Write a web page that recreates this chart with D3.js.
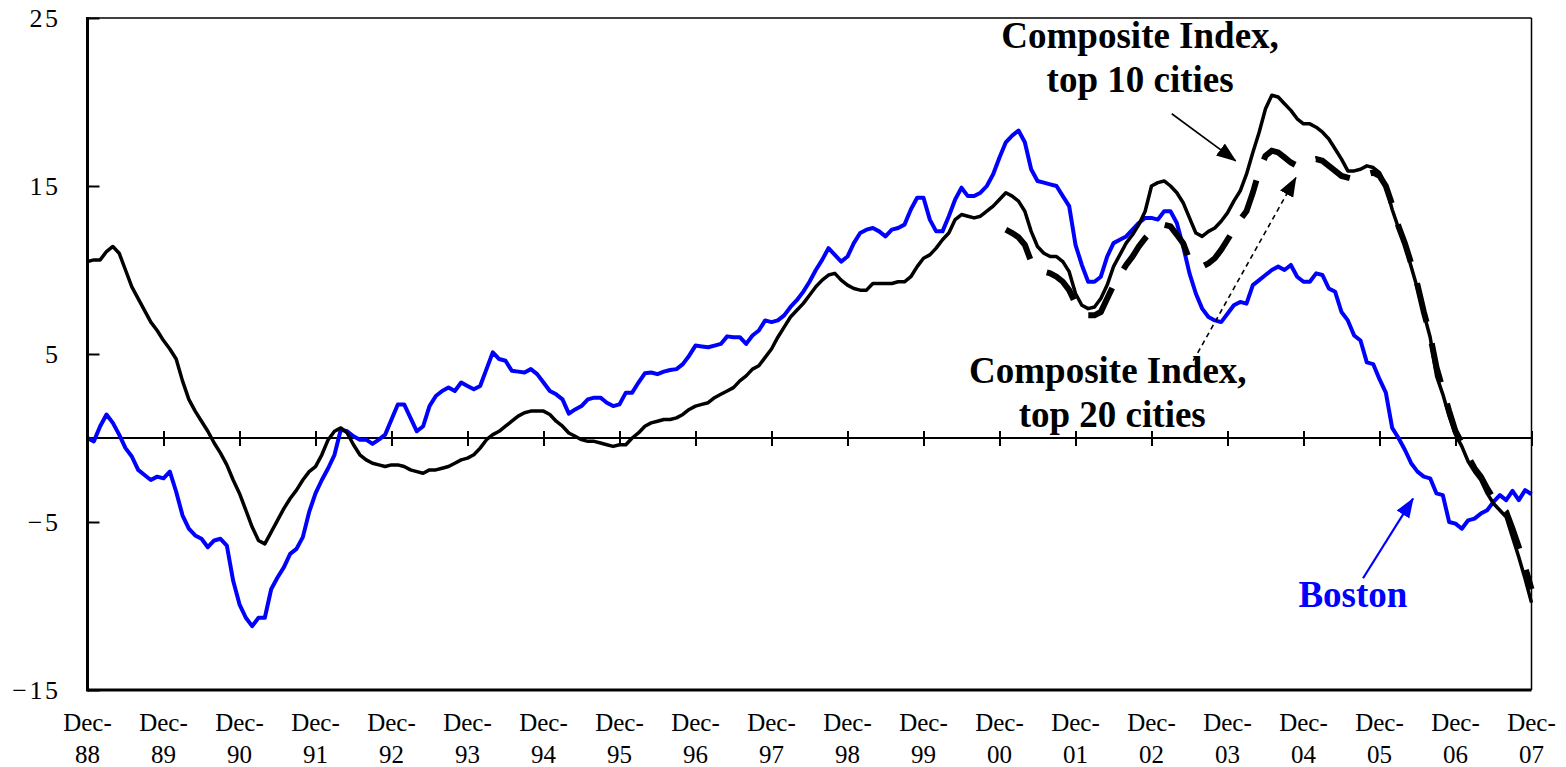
<!DOCTYPE html>
<html>
<head>
<meta charset="utf-8">
<script src="https://cdn.jsdelivr.net/npm/d3@7"></script>
<style>
  html, body { margin: 0; padding: 0; background: #fff; }
  svg { display: block; }
  text { font-family: "Liberation Serif", "Times New Roman", serif; }
</style>
</head>
<body>
<svg id="chart" width="1566" height="767"></svg>
<script>
// ---- Data: year-over-year % change, monthly, Dec-88 (index 0) .. Dec-07 (index 228)
const startYear = 1988;
const yTicks = [25, 15, 5, -5, -15];

const composite10 = [
  10.5, 10.6, 10.6, 11.1, 11.4, 11.0, 10.0, 9.0, 8.3, 7.6, 6.9, 6.4,
  5.8, 5.3, 4.7, 3.4, 2.3, 1.6, 1.0, 0.4, -0.3, -0.9, -1.6, -2.5,
  -3.3, -4.3, -5.3, -6.1, -6.3, -5.6, -4.9, -4.2, -3.6, -3.1, -2.5, -2.0,
  -1.7, -1.0, -0.1, 0.4, 0.6, 0.3, -0.4, -1.0, -1.3, -1.5, -1.6, -1.7,
  -1.6, -1.6, -1.7, -1.9, -2.0, -2.1, -1.9, -1.9, -1.8, -1.7, -1.5, -1.3,
  -1.2, -1.0, -0.6, -0.1, 0.2, 0.4, 0.7, 1.0, 1.3, 1.5, 1.6, 1.6,
  1.6, 1.4, 1.0, 0.7, 0.3, 0.1, -0.1, -0.2, -0.2, -0.3, -0.4, -0.5,
  -0.4, -0.4, 0.0, 0.3, 0.7, 0.9, 1.0, 1.1, 1.1, 1.2, 1.4, 1.7,
  1.9, 2.0, 2.1, 2.4, 2.6, 2.8, 3.0, 3.4, 3.7, 4.1, 4.3, 4.8,
  5.3, 6.0, 6.6, 7.2, 7.6, 8.0, 8.5, 9.0, 9.4, 9.7, 9.8, 9.4,
  9.1, 8.9, 8.8, 8.8, 9.2, 9.2, 9.2, 9.2, 9.3, 9.3, 9.6, 10.2,
  10.7, 10.9, 11.3, 11.8, 12.2, 13.0, 13.3, 13.2, 13.1, 13.2, 13.5, 13.8,
  14.2, 14.6, 14.4, 14.1, 13.5, 12.3, 11.4, 11.0, 10.8, 10.8, 10.5, 9.9,
  8.6, 7.9, 7.7, 7.8, 8.3, 9.1, 10.2, 10.9, 11.6, 12.1, 12.7, 13.5,
  15.0, 15.2, 15.3, 15.0, 14.6, 14.0, 13.1, 12.2, 12.0, 12.3, 12.5, 12.9,
  13.4, 14.1, 14.7, 15.7, 17.0, 18.2, 19.6, 20.4, 20.3, 19.9, 19.5, 19.0,
  18.7, 18.7, 18.5, 18.2, 17.8, 17.2, 16.6, 15.9, 15.9, 16.0, 16.2, 16.1,
  15.8, 15.0, 13.6, 12.5, 11.5, 10.2, 8.9, 7.4, 6.0, 3.7, 2.6, 1.3,
  0.2, -0.5, -1.4, -2.0, -2.5, -3.3, -3.9, -4.3, -4.7, -5.9, -7.1, -8.4, -9.8
];

const boston = [
  0.0, -0.2, 0.7, 1.4, 0.9, 0.2, -0.6, -1.1, -1.9, -2.2, -2.5, -2.3,
  -2.4, -2.0, -3.2, -4.6, -5.4, -5.8, -6.0, -6.5, -6.1, -6.0, -6.4, -8.5,
  -9.9, -10.7, -11.2, -10.7, -10.7, -9.0, -8.3, -7.7, -6.9, -6.6, -5.9, -4.4,
  -3.3, -2.5, -1.8, -1.0, 0.5, 0.4, 0.1, -0.1, -0.1, -0.35, -0.1, 0.2,
  1.1, 2.0, 2.0, 1.2, 0.4, 0.7, 1.9, 2.5, 2.8, 3.0, 2.8, 3.3,
  3.1, 2.9, 3.1, 4.1, 5.1, 4.7, 4.6, 4.0, 3.95, 3.9, 4.1, 3.8,
  3.3, 2.8, 2.6, 2.3, 1.45, 1.7, 1.9, 2.3, 2.4, 2.4, 2.1, 1.9,
  2.0, 2.7, 2.7, 3.3, 3.85, 3.9, 3.8, 3.95, 4.05, 4.1, 4.4, 4.9,
  5.5, 5.45, 5.4, 5.5, 5.6, 6.05, 6.0, 6.0, 5.6, 6.1, 6.4, 7.0,
  6.9, 7.0, 7.3, 7.8, 8.2, 8.7, 9.3, 10.0, 10.6, 11.3, 10.9, 10.5,
  10.8, 11.6, 12.2, 12.4, 12.5, 12.3, 12.0, 12.4, 12.5, 12.7, 13.6, 14.3,
  14.3, 13.0, 12.3, 12.3, 13.2, 14.2, 14.9, 14.4, 14.4, 14.6, 15.0, 15.7,
  16.7, 17.6, 18.0, 18.3, 17.6, 16.0, 15.3, 15.2, 15.1, 15.0, 14.4, 13.8,
  11.5, 10.3, 9.3, 9.3, 9.6, 10.8, 11.6, 11.8, 12.0, 12.4, 12.8, 13.1,
  13.1, 13.0, 13.5, 13.5, 12.8, 11.4, 9.8, 8.6, 7.7, 7.2, 7.0, 6.9,
  7.4, 7.9, 8.1, 8.0, 9.1, 9.4, 9.7, 10.0, 10.2, 10.0, 10.3, 9.6,
  9.3, 9.3, 9.8, 9.7, 8.9, 8.7, 7.5, 7.0, 6.1, 5.8, 4.5, 4.4,
  3.5, 2.7, 0.6, 0.0, -0.7, -1.5, -2.0, -2.3, -2.4, -3.3, -3.4, -5.0,
  -5.1, -5.4, -4.9, -4.8, -4.5, -4.3, -3.8, -3.4, -3.7, -3.15, -3.7, -3.1, -3.35
];

// Composite-20 starts at index 145 (early 2001)
const composite20Start = 145;
const composite20 = [
  12.4, 12.2, 11.95, 11.5, 10.5, 10.1, 9.9, 9.8, 9.6, 9.3, 8.8,
  8.0, 7.5, 7.3, 7.3, 7.5, 8.3, 9.1, 9.7, 10.3, 10.8, 11.4, 11.9,
  12.3, 12.5, 12.7, 12.6, 12.1, 11.6, 10.6, 10.3, 10.2, 10.4, 10.7, 11.2,
  11.8, 12.4, 13.0, 13.5, 14.6, 15.9, 16.8, 17.1, 17.0, 16.7, 16.4, 16.2,
  16.3, 16.5, 16.6, 16.5, 16.2, 15.9, 15.6, 15.5, 15.4, 15.6, 15.7, 15.8,
  15.6, 15.0, 13.9, 12.6, 11.6, 10.4, 9.1, 7.5, 6.1, 4.2, 2.9, 1.6,
  0.4, -0.3, -1.1, -1.8, -2.3, -3.0, -3.6, -4.0, -4.4, -5.4, -6.5, -7.7, -9.0
];

// Annotations in data coordinates (month index, value)
const labels = [
  { lines: ["Composite Index,", "top 10 cities"], x: [166.2, 166.2], y: [23.2, 20.6], color: "#000" },
  { lines: ["Composite Index,", "top 20 cities"], x: [161.1, 161.8], y: [3.3, 0.65], color: "#000" },
  { lines: ["Boston"], x: [199.8], y: [-10.05], color: "#0000FF" }
];
const arrows = [
  { from: [171.2, 19.3], to: [181.3, 16.5], color: "#000", dash: null },
  { from: [174.6, 4.6], to: [190.8, 15.5], color: "#000", dash: "5,4" },
  { from: [201.4, -8.35], to: [209.3, -3.6], color: "#0000FF", dash: null }
];

// ---- Drawing
(function draw() {
const svg = d3.select("#chart");
svg.append("rect").attr("width", 1566).attr("height", 767).attr("fill", "#fff");

const pLeft = 87.5, pRight = 1531.5, pTop = 18, pBottom = 690;
const nMonths = composite10.length - 1;
const x = d3.scaleLinear().domain([0, nMonths]).range([pLeft, pRight]);
const y = d3.scaleLinear().domain([-15, 25]).range([pBottom, pTop]);

const yearTicks = d3.range(0, nMonths + 1, 12);

// zero line
svg.append("line")
  .attr("x1", pLeft).attr("x2", pRight)
  .attr("y1", y(0)).attr("y2", y(0))
  .attr("stroke", "#000").attr("stroke-width", 2);

// crossing tick marks on zero line
const xAxis = d3.axisBottom(x).tickValues(yearTicks).tickSize(15).tickFormat("");
const gx = svg.append("g").attr("transform", `translate(0,${y(0) - 7})`).call(xAxis);
gx.select(".domain").remove();
gx.selectAll(".tick line").attr("stroke", "#000").attr("stroke-width", 2);

// x labels (two lines)
const xl = svg.append("g");
yearTicks.forEach(t => {
  const yr = (startYear + t / 12) % 100;
  const g = xl.append("text").attr("text-anchor", "middle").attr("font-size", 25).attr("fill", "#000");
  g.append("tspan").attr("x", x(t)).attr("y", 731).text("Dec-");
  g.append("tspan").attr("x", x(t)).attr("y", 763).text(String(yr).padStart(2, "0"));
});

// y axis
const yAxis = d3.axisLeft(y).tickValues(yTicks).tickSizeInner(-12).tickSizeOuter(0).tickPadding(27);
const gy = svg.append("g").attr("transform", `translate(${pLeft},0)`).call(yAxis);
gy.select(".domain").remove();
gy.selectAll(".tick line").attr("stroke", "#000").attr("stroke-width", 2);
gy.selectAll(".tick text")
  .attr("font-size", 26).attr("fill", "#000")
  .attr("font-family", "Liberation Serif, Times New Roman, serif")
  .style("letter-spacing", "2.5px");

// series lines
const line = d3.line().defined(d => d[1] != null).x(d => x(d[0])).y(d => y(d[1]));
const pts10 = composite10.map((v, i) => [i, v]);
const ptsB = boston.map((v, i) => [i, v]);
const pts20 = composite20.map((v, i) => [i + composite20Start, v]);

svg.append("path").attr("d", line(ptsB)).attr("fill", "none")
  .attr("stroke", "#0000FF").attr("stroke-width", 4).attr("stroke-linejoin", "round");
svg.append("path").attr("d", line(pts20)).attr("fill", "none")
  .attr("stroke", "#000").attr("stroke-width", 6).attr("stroke-dasharray", "40,22");
svg.append("path").attr("d", line(pts10)).attr("fill", "none")
  .attr("stroke", "#000").attr("stroke-width", 3.5).attr("stroke-linejoin", "round");

// frame
svg.append("line").attr("x1", pLeft).attr("x2", pRight).attr("y1", pTop).attr("y2", pTop)
  .attr("stroke", "#000").attr("stroke-width", 1.5);
svg.append("line").attr("x1", pRight).attr("x2", pRight).attr("y1", pTop).attr("y2", pBottom)
  .attr("stroke", "#000").attr("stroke-width", 1.5);
svg.append("line").attr("x1", pLeft).attr("x2", pRight).attr("y1", pBottom).attr("y2", pBottom)
  .attr("stroke", "#000").attr("stroke-width", 3);
svg.append("line").attr("x1", pLeft).attr("x2", pLeft).attr("y1", pTop - 1).attr("y2", pBottom + 1.5)
  .attr("stroke", "#000").attr("stroke-width", 3);

// arrowheads
const defs = svg.append("defs");
["#000", "#0000FF"].forEach((c, i) => {
  defs.append("marker").attr("id", "ah" + i)
    .attr("viewBox", "0 -8 20 16").attr("refX", 19).attr("refY", 0)
    .attr("markerUnits", "userSpaceOnUse").attr("markerWidth", 20).attr("markerHeight", 16)
    .attr("orient", "auto")
    .append("path").attr("d", "M0,-7.5L20,0L0,7.5Z").attr("fill", c);
});
arrows.forEach(a => {
  svg.append("line")
    .attr("x1", x(a.from[0])).attr("y1", y(a.from[1]))
    .attr("x2", x(a.to[0])).attr("y2", y(a.to[1]))
    .attr("stroke", a.color).attr("stroke-width", a.color === "#000" ? 1.6 : 2.2)
    .attr("stroke-dasharray", a.dash)
    .attr("marker-end", `url(#ah${a.color === "#000" ? 0 : 1})`);
});

// annotation labels
labels.forEach(l => {
  const t = svg.append("text").attr("text-anchor", "middle").attr("font-size", 37)
    .attr("font-weight", "bold").attr("fill", l.color);
  l.lines.forEach((s, i) => {
    t.append("tspan").attr("x", x(l.x[i])).attr("y", y(l.y[i])).text(s);
  });
});
})();
</script>
</body>
</html>
